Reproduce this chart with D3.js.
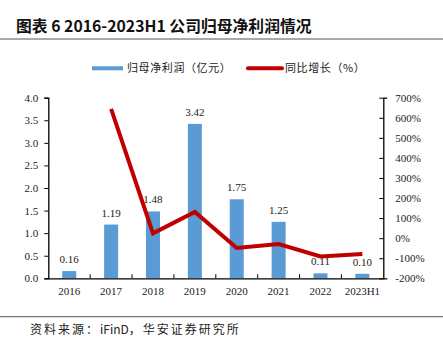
<!DOCTYPE html>
<html><head><meta charset="utf-8">
<script src="https://cdn.jsdelivr.net/npm/d3@7/dist/d3.min.js"></script>
<style>body{margin:0;background:#fff}svg{display:block}</style>
</head><body>
<script>
const categories = ["2016","2017","2018","2019","2020","2021","2022","2023H1"];
const profit = [0.16,1.19,1.48,3.42,1.75,1.25,0.11,0.10];
const growth = [null,644,24,131,-49,-29,-91,-79];
const leftTicks = [0,0.5,1,1.5,2,2.5,3,3.5,4];
const rightTicks = [-200,-100,0,100,200,300,400,500,600,700];

const W=443,H=339;
const svg=d3.select("body").append("svg").attr("width",W).attr("height",H);
const cjk="'Noto Sans CJK SC','Noto Sans',sans-serif";
const serif="'Liberation Serif','Times New Roman',serif";

svg.append("text").attr("x",16).attr("y",32).attr("font-family",cjk).attr("font-weight","bold")
  .attr("font-size",15.8).attr("fill","#111").text("图表 6 2016-2023H1 公司归母净利润情况");
svg.append("line").attr("x1",0).attr("x2",W).attr("y1",39).attr("y2",39).attr("stroke","#555").attr("stroke-width",1.2);

// legend
svg.append("rect").attr("x",92).attr("y",66.3).attr("width",31).attr("height",4).attr("fill","#5B9BD5");
svg.append("text").attr("x",127).attr("y",72).attr("font-family",cjk).attr("font-size",11).attr("letter-spacing",0.6).attr("fill","#222").text("归母净利润（亿元）");
svg.append("line").attr("x1",248).attr("x2",282).attr("y1",68.3).attr("y2",68.3).attr("stroke","#C00000").attr("stroke-width",4).attr("stroke-linecap","round");
svg.append("text").attr("x",285).attr("y",72).attr("font-family",cjk).attr("font-size",11).attr("letter-spacing",0.6).attr("fill","#222").text("同比增长（%）");

const x0=48.3,x1=383.3,yTop=97.7,yBot=278.3;
const xb=d3.scaleBand().domain(categories).range([x0,x1]);
const yL=d3.scaleLinear().domain([0,4]).range([yBot,yTop]);
const yR=d3.scaleLinear().domain([-200,700]).range([yBot,yTop]);

svg.selectAll("rect.bar").data(profit).enter().append("rect").attr("class","bar")
  .attr("x",(d,i)=>xb(categories[i])+xb.bandwidth()/2-7).attr("width",14)
  .attr("y",d=>yL(d)).attr("height",d=>yBot-yL(d)).attr("fill","#5B9BD5");

const line=d3.line().defined(d=>d[1]!=null).x(d=>xb(d[0])+xb.bandwidth()/2).y(d=>yR(d[1]));
svg.append("path").datum(categories.map((c,i)=>[c,growth[i]])).attr("d",line)
  .attr("fill","none").attr("stroke","#C00000").attr("stroke-width",4).attr("stroke-linejoin","miter");

svg.selectAll("text.lbl").data(profit).enter().append("text")
  .attr("x",(d,i)=>xb(categories[i])+xb.bandwidth()/2).attr("y",d=>yL(d)-8)
  .attr("text-anchor","middle").attr("font-family",serif).attr("font-size",11).attr("fill","#222")
  .text(d=>d.toFixed(2));

const gl=svg.append("g").attr("transform",`translate(${x0},0)`)
  .call(d3.axisLeft(yL).tickValues(leftTicks).tickFormat(d3.format(".1f")).tickSize(4).tickPadding(6));
const gr=svg.append("g").attr("transform",`translate(${x1},0)`)
  .call(d3.axisRight(yR).tickValues(rightTicks).tickFormat(d=>d+"%").tickSize(4).tickPadding(8));
gr.selectAll(".tick line").attr("x1",-4).attr("x2",0);
const gb=svg.append("g").attr("transform",`translate(0,${yBot})`)
  .call(d3.axisBottom(xb).tickSize(0).tickPadding(9));
svg.selectAll("line.bt").data(categories.slice(1)).enter().append("line")
  .attr("x1",d=>xb(d)).attr("x2",d=>xb(d)).attr("y1",yBot).attr("y2",yBot-4).attr("stroke","#000");
[gl,gr,gb].forEach(g=>{
  g.selectAll("path.domain").attr("stroke","#000").attr("stroke-width",1.3);
  g.selectAll(".tick line").attr("stroke","#000");
  g.selectAll("text").attr("font-family",serif).attr("font-size",11).attr("fill","#222");
});

svg.append("line").attr("x1",0).attr("x2",W).attr("y1",316.7).attr("y2",316.7).attr("stroke","#777").attr("stroke-width",1.2);
const src=svg.append("text").attr("x",30).attr("y",333.5).attr("font-family",cjk).attr("font-size",12).attr("fill","#222");
src.append("tspan").attr("letter-spacing",2).text("资料来源：");
src.append("tspan").text("iFinD");
src.append("tspan").attr("letter-spacing",2).text("，华安证券研究所");
</script>
</body></html>
